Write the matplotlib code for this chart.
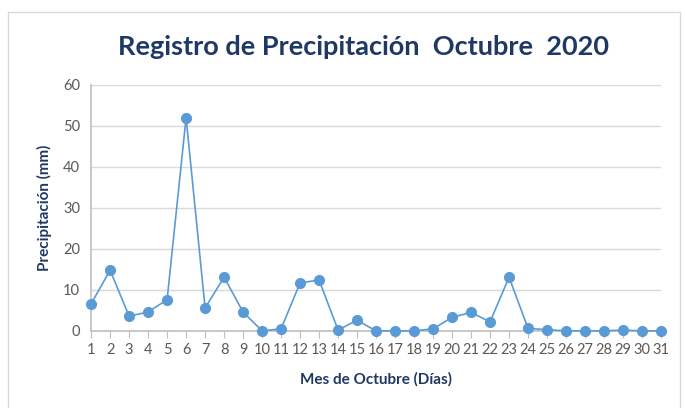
import matplotlib.pyplot as plt
from matplotlib.patches import Rectangle

# Precipitación diaria, octubre 2020 (mm)
dias = list(range(1, 32))
precipitacion = [6.6, 14.8, 3.6, 4.6, 7.6, 52.0, 5.6, 13.1, 4.6, 0.0,
                 0.5, 11.7, 12.4, 0.2, 2.6, 0.0, 0.0, 0.0, 0.5, 3.3,
                 4.5, 2.2, 13.1, 0.6, 0.3, 0.0, 0.0, 0.0, 0.2, 0.0, 0.0]

plt.rcParams['font.family'] = ['Lato', 'DejaVu Sans']

fig = plt.figure(figsize=(6.85, 4.08), dpi=100)
ax = fig.add_axes([0.133, 0.189, 0.832, 0.603])

# marco del gráfico
fig.patches.append(Rectangle((0.012, -0.05), 0.98, 1.02, transform=fig.transFigure,
                             fill=False, edgecolor='#d9d9d9', linewidth=1))

ax.plot(dias, precipitacion, color='#5b9bd5', linewidth=1.2, marker='o',
        markersize=7, markerfacecolor='#5b9bd5', markeredgecolor='#5b9bd5', zorder=3,
        clip_on=False)

ax.set_xlim(1, 31)
ax.set_ylim(0, 60)
ax.set_yticks(range(0, 61, 10))
ax.set_xticks(dias)
ax.grid(axis='y', color='#d9d9d9', linewidth=1)
ax.set_axisbelow(True)
for s in ['top', 'right']:
    ax.spines[s].set_visible(False)
for s in ['left', 'bottom']:
    ax.spines[s].set_color('#bfbfbf')
    ax.spines[s].set_linewidth(1.2)
ax.tick_params(axis='y', length=0, labelsize=10.5, labelcolor='#595959', pad=8)
ax.tick_params(axis='x', length=5, color='#bfbfbf', labelsize=10.5, labelcolor='#595959')

ax.set_xlabel('Mes de Octubre (Días)', fontsize=11, fontweight='bold', color='#1f3864', labelpad=11)
ax.set_ylabel('Precipitación (mm)', fontsize=11, fontweight='bold', color='#1f3864', labelpad=8)
fig.text(0.53, 0.885, 'Registro de Precipitación  Octubre  2020', ha='center', va='center',
         fontsize=19.5, fontweight='bold', color='#1f3864')

fig.savefig('out.png', dpi=100)
